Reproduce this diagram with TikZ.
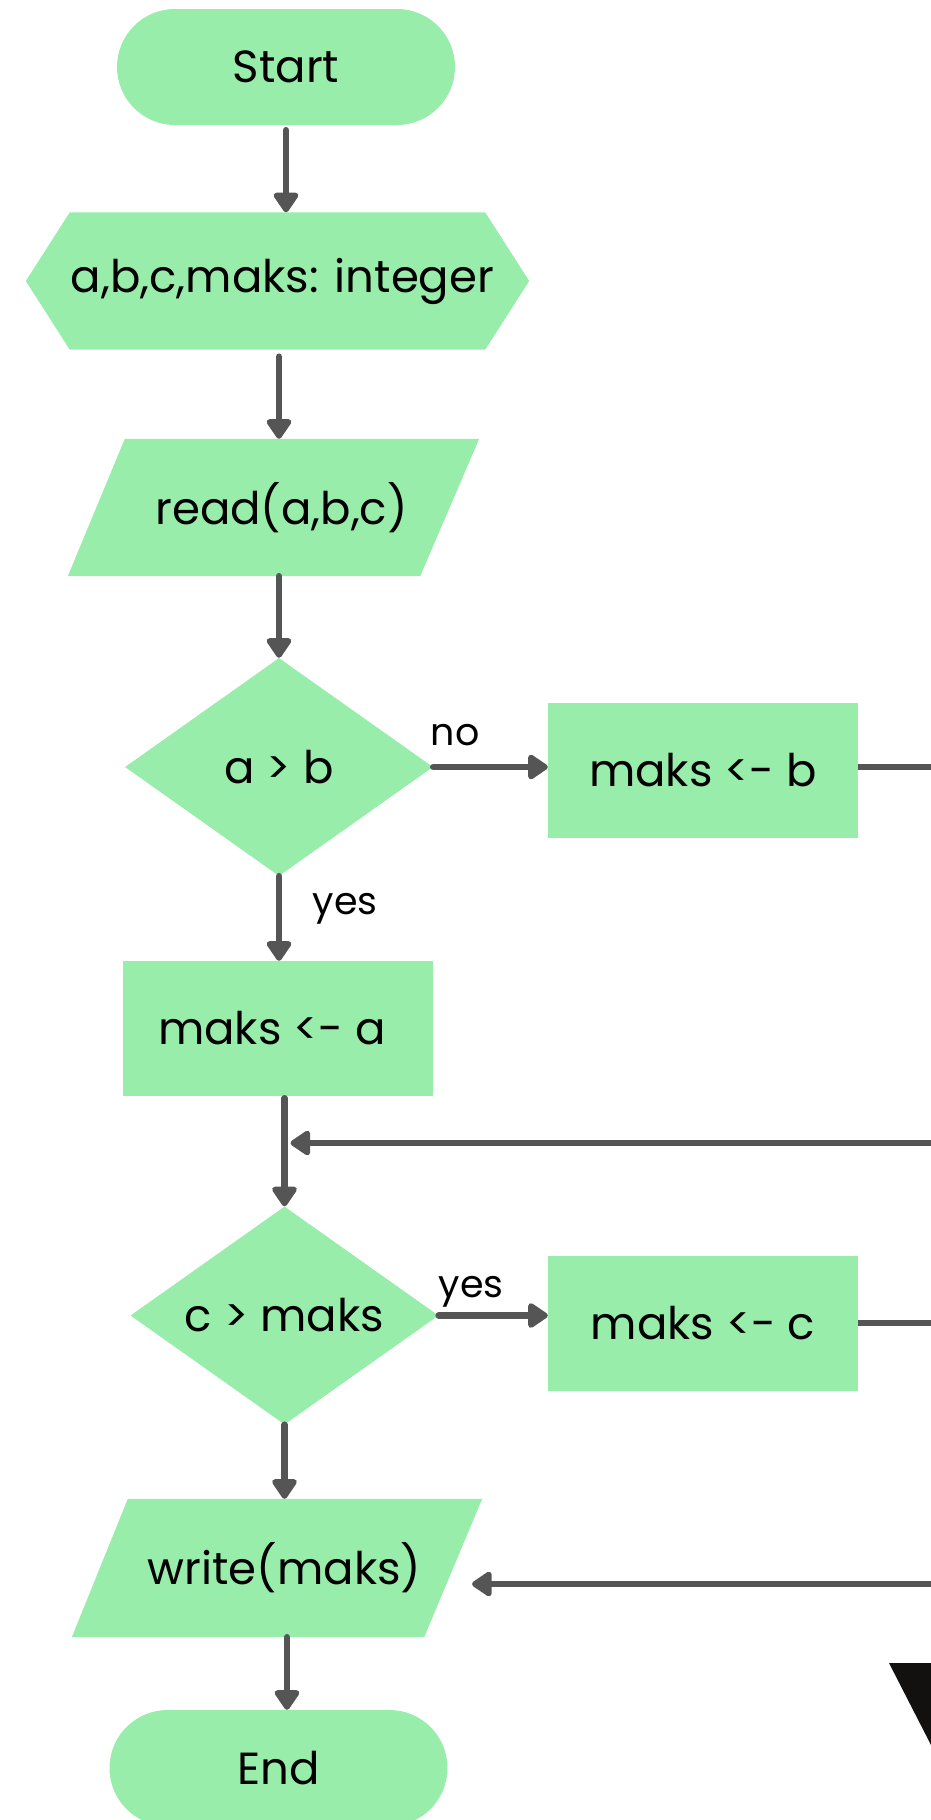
\documentclass[tikz,border=0pt]{standalone}
\usepackage{fontspec}
\setmainfont{Poppins}
\usetikzlibrary{arrows.meta,shapes.geometric,backgrounds,calc}
\definecolor{flowgreen}{HTML}{98EDAB}
\definecolor{flowline}{HTML}{555555}
\definecolor{cornerblack}{HTML}{121110}
\begin{document}
\begin{tikzpicture}[x=1pt,y=-1pt,
  every node/.style={inner sep=0pt, font=\fontsize{45}{54}\selectfont},
  terminal/.style={rectangle, rounded corners=58pt, fill=flowgreen, minimum width=338pt, minimum height=116pt},
  procbox/.style={rectangle, fill=flowgreen, minimum width=310pt, minimum height=135pt},
  decision/.style={diamond, aspect=1.41, fill=flowgreen, minimum width=308pt, minimum height=218pt},
  frame/.style={rectangle, minimum width=#1, minimum height=137pt},
  edgelabel/.style={font=\fontsize{38}{44}\selectfont},
  arr/.style={draw=flowline, line width=6.5pt, line cap=round, -{Triangle[length=22pt, width=28pt, round]}},
  plain/.style={draw=flowline, line width=6.5pt}
]
\useasboundingbox (0,0) rectangle (931,1820);

% nodes
\node[terminal] (start) at (286,67) {Start};
\node[frame=503pt] (decl) at (282.5,281) {a,b,c,maks: integer};
\node[frame=411pt] (read) at (281.5,507.5) {read(a,b,c)};
\node[decision] (d1) at (279,767) {a > b};
\node[procbox] (mb) at (703,770.5) {maks <- b};
\node[procbox] (ma) at (278,1028.5) {maks <- a\kern12pt};
\node[decision] (d2) at (284.5,1315.5) {c > maks};
\node[procbox] (mc) at (703,1323.5) {maks <- c};
\node[frame=410pt, minimum height=138pt] (wr) at (284.5,1568) {write(maks)};
\node[terminal] (end) at (278.5,1768) {End};

% shape fills for the declaration and input/output symbols
\begin{scope}[on background layer]
  \fill[flowgreen] ([xshift=-5pt]decl.west) -- ([xshift=39pt]decl.north west) -- ([xshift=-49pt]decl.north east)
    -- ([xshift=-5pt]decl.east) -- ([xshift=-49pt]decl.south east) -- ([xshift=39pt]decl.south west) -- cycle;
  \fill[flowgreen] ([xshift=49pt]read.north west) -- ([xshift=-8pt]read.north east)
    -- ([xshift=-67pt]read.south east) -- ([xshift=-8pt]read.south west) -- cycle;
  \fill[flowgreen] ([xshift=48.5pt]wr.north west) -- ([xshift=-7.5pt]wr.north east)
    -- ([xshift=-65.5pt]wr.south east) -- ([xshift=-7.5pt]wr.south west) -- cycle;
\end{scope}

% branch labels
\node[edgelabel] (lno) at (455,735) {no};
\node[edgelabel] (lyes1) at (345,909) {yes};
\node[edgelabel] (lyes2) at (471,1292) {yes};

% free ends at the right border
\coordinate (edgeB) at (931,767);
\coordinate (edgeJ) at (931,1143);
\coordinate (edgeC) at (931,1323);
\coordinate (edgeW) at (931,1584);
\coordinate (wtip) at (472,1584);

% connectors
\draw[arr, shorten <=5pt] (start.south) -- (start.south |- decl.north);
\draw[arr, shorten <=7pt] ([xshift=-3.5pt]decl.south) -- ([xshift=-3.5pt]decl.south |- read.north);
\draw[arr] (read.south -| d1.north) -- (d1.north);
\draw[arr] (d1.east) -- (d1.east -| mb.west);
\draw[plain] (mb.east |- edgeB) -- (edgeB);
\draw[arr] (d1.south) -- (d1.south |- ma.north);
\draw[arr, shorten <=2pt] (ma.south -| d2.north) -- (d2.north);
\draw[arr, shorten >=6pt] (edgeJ) -- (edgeJ -| d2.north);
\draw[arr] (d2.east) -- (d2.east -| mc.west);
\draw[plain] (mc.east |- edgeC) -- (edgeC);
\draw[arr] (d2.south) -- (d2.south |- wr.north);
\draw[arr] (edgeW) -- (wtip);
\draw[arr] ([xshift=2.5pt]wr.south) -- ([xshift=2.5pt]wr.south |- end.north);

% corner mark
\fill[cornerblack] (889,1663) -- (931,1663) -- (931,1745) -- cycle;
\end{tikzpicture}
\end{document}
